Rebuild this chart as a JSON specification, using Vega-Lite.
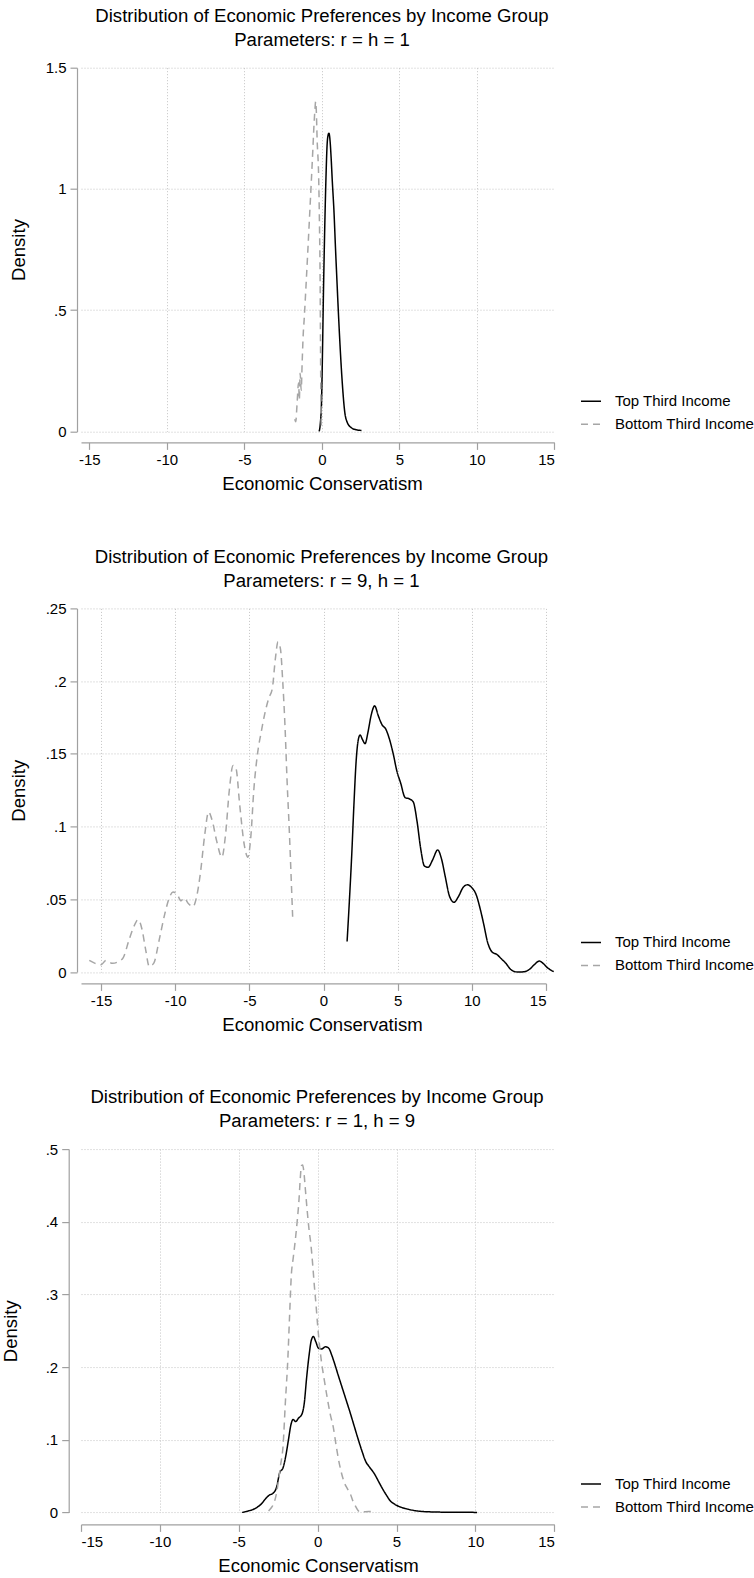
{
  "$schema": "https://vega.github.io/schema/vega-lite/v6.json",
  "padding": {"left": 0, "top": 6.7, "right": 0, "bottom": 0},
  "background": "white",
  "columns": 1,
  "spacing": 53.7,
  "resolve": {"scale": {"color": "independent", "strokeDash": "independent"}, "legend": {"color": "independent", "strokeDash": "independent"}},
  "datasets": {
    "p1": [
      {"x": -0.17, "y": 0.0, "g": "Top Third Income"},
      {"x": -0.1, "y": 0.03, "g": "Top Third Income"},
      {"x": -0.02, "y": 0.12, "g": "Top Third Income"},
      {"x": 0.05, "y": 0.35, "g": "Top Third Income"},
      {"x": 0.1, "y": 0.55, "g": "Top Third Income"},
      {"x": 0.15, "y": 0.72, "g": "Top Third Income"},
      {"x": 0.21, "y": 0.9, "g": "Top Third Income"},
      {"x": 0.27, "y": 1.05, "g": "Top Third Income"},
      {"x": 0.34, "y": 1.18, "g": "Top Third Income"},
      {"x": 0.4, "y": 1.22, "g": "Top Third Income"},
      {"x": 0.46, "y": 1.23, "g": "Top Third Income"},
      {"x": 0.53, "y": 1.2, "g": "Top Third Income"},
      {"x": 0.6, "y": 1.13, "g": "Top Third Income"},
      {"x": 0.67, "y": 1.04, "g": "Top Third Income"},
      {"x": 0.79, "y": 0.9, "g": "Top Third Income"},
      {"x": 0.88, "y": 0.76, "g": "Top Third Income"},
      {"x": 0.97, "y": 0.63, "g": "Top Third Income"},
      {"x": 1.07, "y": 0.49, "g": "Top Third Income"},
      {"x": 1.18, "y": 0.35, "g": "Top Third Income"},
      {"x": 1.31, "y": 0.21, "g": "Top Third Income"},
      {"x": 1.48, "y": 0.08, "g": "Top Third Income"},
      {"x": 1.65, "y": 0.036, "g": "Top Third Income"},
      {"x": 1.91, "y": 0.015, "g": "Top Third Income"},
      {"x": 2.2, "y": 0.007, "g": "Top Third Income"},
      {"x": 2.56, "y": 0.004, "g": "Top Third Income"},
      {"x": -1.75, "y": 0.05, "g": "Bottom Third Income"},
      {"x": -1.68, "y": 0.04, "g": "Bottom Third Income"},
      {"x": -1.6, "y": 0.11, "g": "Bottom Third Income"},
      {"x": -1.5, "y": 0.2, "g": "Bottom Third Income"},
      {"x": -1.45, "y": 0.13, "g": "Bottom Third Income"},
      {"x": -1.4, "y": 0.24, "g": "Bottom Third Income"},
      {"x": -1.33, "y": 0.17, "g": "Bottom Third Income"},
      {"x": -1.27, "y": 0.28, "g": "Bottom Third Income"},
      {"x": -1.2, "y": 0.4, "g": "Bottom Third Income"},
      {"x": -1.14, "y": 0.46, "g": "Bottom Third Income"},
      {"x": -1.02, "y": 0.6, "g": "Bottom Third Income"},
      {"x": -0.89, "y": 0.76, "g": "Bottom Third Income"},
      {"x": -0.78, "y": 0.9, "g": "Bottom Third Income"},
      {"x": -0.67, "y": 1.04, "g": "Bottom Third Income"},
      {"x": -0.58, "y": 1.16, "g": "Bottom Third Income"},
      {"x": -0.5, "y": 1.27, "g": "Bottom Third Income"},
      {"x": -0.44, "y": 1.33, "g": "Bottom Third Income"},
      {"x": -0.4, "y": 1.36, "g": "Bottom Third Income"},
      {"x": -0.36, "y": 1.33, "g": "Bottom Third Income"},
      {"x": -0.3, "y": 1.2, "g": "Bottom Third Income"},
      {"x": -0.2, "y": 1.04, "g": "Bottom Third Income"},
      {"x": -0.15, "y": 0.85, "g": "Bottom Third Income"},
      {"x": -0.11, "y": 0.63, "g": "Bottom Third Income"},
      {"x": -0.09, "y": 0.42, "g": "Bottom Third Income"},
      {"x": -0.07, "y": 0.21, "g": "Bottom Third Income"},
      {"x": -0.05, "y": 0.08, "g": "Bottom Third Income"},
      {"x": -0.03, "y": 0.02, "g": "Bottom Third Income"}
    ],
    "p2": [
      {"x": 1.59, "y": 0.021, "g": "Top Third Income"},
      {"x": 1.75, "y": 0.05, "g": "Top Third Income"},
      {"x": 1.9, "y": 0.08, "g": "Top Third Income"},
      {"x": 2.05, "y": 0.115, "g": "Top Third Income"},
      {"x": 2.2, "y": 0.145, "g": "Top Third Income"},
      {"x": 2.35, "y": 0.16, "g": "Top Third Income"},
      {"x": 2.47, "y": 0.163, "g": "Top Third Income"},
      {"x": 2.62, "y": 0.16, "g": "Top Third Income"},
      {"x": 2.8, "y": 0.157, "g": "Top Third Income"},
      {"x": 3.0, "y": 0.165, "g": "Top Third Income"},
      {"x": 3.2, "y": 0.176, "g": "Top Third Income"},
      {"x": 3.45, "y": 0.183, "g": "Top Third Income"},
      {"x": 3.7, "y": 0.176, "g": "Top Third Income"},
      {"x": 3.95, "y": 0.17, "g": "Top Third Income"},
      {"x": 4.2, "y": 0.167, "g": "Top Third Income"},
      {"x": 4.45, "y": 0.16, "g": "Top Third Income"},
      {"x": 4.7, "y": 0.15, "g": "Top Third Income"},
      {"x": 4.95, "y": 0.138, "g": "Top Third Income"},
      {"x": 5.2, "y": 0.13, "g": "Top Third Income"},
      {"x": 5.5, "y": 0.12, "g": "Top Third Income"},
      {"x": 5.8, "y": 0.119, "g": "Top Third Income"},
      {"x": 6.05, "y": 0.117, "g": "Top Third Income"},
      {"x": 6.3, "y": 0.104, "g": "Top Third Income"},
      {"x": 6.55, "y": 0.085, "g": "Top Third Income"},
      {"x": 6.8, "y": 0.073, "g": "Top Third Income"},
      {"x": 7.05, "y": 0.072, "g": "Top Third Income"},
      {"x": 7.35, "y": 0.077, "g": "Top Third Income"},
      {"x": 7.7, "y": 0.084, "g": "Top Third Income"},
      {"x": 7.95, "y": 0.078, "g": "Top Third Income"},
      {"x": 8.2, "y": 0.066, "g": "Top Third Income"},
      {"x": 8.5, "y": 0.052, "g": "Top Third Income"},
      {"x": 8.8, "y": 0.048, "g": "Top Third Income"},
      {"x": 9.1, "y": 0.052, "g": "Top Third Income"},
      {"x": 9.4, "y": 0.058, "g": "Top Third Income"},
      {"x": 9.7, "y": 0.06, "g": "Top Third Income"},
      {"x": 10.0, "y": 0.058, "g": "Top Third Income"},
      {"x": 10.3, "y": 0.053, "g": "Top Third Income"},
      {"x": 10.55, "y": 0.044, "g": "Top Third Income"},
      {"x": 10.8, "y": 0.033, "g": "Top Third Income"},
      {"x": 11.05, "y": 0.021, "g": "Top Third Income"},
      {"x": 11.35, "y": 0.014, "g": "Top Third Income"},
      {"x": 11.7, "y": 0.012, "g": "Top Third Income"},
      {"x": 12.0, "y": 0.009, "g": "Top Third Income"},
      {"x": 12.3, "y": 0.006, "g": "Top Third Income"},
      {"x": 12.6, "y": 0.002, "g": "Top Third Income"},
      {"x": 12.9, "y": 0.0003, "g": "Top Third Income"},
      {"x": 13.2, "y": 0.0, "g": "Top Third Income"},
      {"x": 13.55, "y": 0.0003, "g": "Top Third Income"},
      {"x": 13.9, "y": 0.002, "g": "Top Third Income"},
      {"x": 14.2, "y": 0.005, "g": "Top Third Income"},
      {"x": 14.55, "y": 0.0076, "g": "Top Third Income"},
      {"x": 14.8, "y": 0.006, "g": "Top Third Income"},
      {"x": 15.1, "y": 0.003, "g": "Top Third Income"},
      {"x": 15.52, "y": 0.0003, "g": "Top Third Income"},
      {"x": -15.79, "y": 0.008, "g": "Bottom Third Income"},
      {"x": -15.4, "y": 0.006, "g": "Bottom Third Income"},
      {"x": -15.0, "y": 0.005, "g": "Bottom Third Income"},
      {"x": -14.67, "y": 0.008, "g": "Bottom Third Income"},
      {"x": -14.22, "y": 0.006, "g": "Bottom Third Income"},
      {"x": -13.77, "y": 0.0076, "g": "Bottom Third Income"},
      {"x": -13.5, "y": 0.01, "g": "Bottom Third Income"},
      {"x": -13.1, "y": 0.0225, "g": "Bottom Third Income"},
      {"x": -12.8, "y": 0.031, "g": "Bottom Third Income"},
      {"x": -12.5, "y": 0.036, "g": "Bottom Third Income"},
      {"x": -12.25, "y": 0.03, "g": "Bottom Third Income"},
      {"x": -12.0, "y": 0.016, "g": "Bottom Third Income"},
      {"x": -11.75, "y": 0.004, "g": "Bottom Third Income"},
      {"x": -11.45, "y": 0.006, "g": "Bottom Third Income"},
      {"x": -11.07, "y": 0.0225, "g": "Bottom Third Income"},
      {"x": -10.7, "y": 0.04, "g": "Bottom Third Income"},
      {"x": -10.4, "y": 0.051, "g": "Bottom Third Income"},
      {"x": -10.15, "y": 0.055, "g": "Bottom Third Income"},
      {"x": -9.9, "y": 0.054, "g": "Bottom Third Income"},
      {"x": -9.6, "y": 0.049, "g": "Bottom Third Income"},
      {"x": -9.4, "y": 0.051, "g": "Bottom Third Income"},
      {"x": -9.1, "y": 0.047, "g": "Bottom Third Income"},
      {"x": -8.8, "y": 0.045, "g": "Bottom Third Income"},
      {"x": -8.55, "y": 0.052, "g": "Bottom Third Income"},
      {"x": -8.3, "y": 0.068, "g": "Bottom Third Income"},
      {"x": -8.0, "y": 0.095, "g": "Bottom Third Income"},
      {"x": -7.75, "y": 0.11, "g": "Bottom Third Income"},
      {"x": -7.5, "y": 0.104, "g": "Bottom Third Income"},
      {"x": -7.2, "y": 0.09, "g": "Bottom Third Income"},
      {"x": -6.85, "y": 0.079, "g": "Bottom Third Income"},
      {"x": -6.6, "y": 0.095, "g": "Bottom Third Income"},
      {"x": -6.35, "y": 0.125, "g": "Bottom Third Income"},
      {"x": -6.1, "y": 0.142, "g": "Bottom Third Income"},
      {"x": -5.9, "y": 0.14, "g": "Bottom Third Income"},
      {"x": -5.65, "y": 0.115, "g": "Bottom Third Income"},
      {"x": -5.35, "y": 0.088, "g": "Bottom Third Income"},
      {"x": -5.1, "y": 0.079, "g": "Bottom Third Income"},
      {"x": -4.9, "y": 0.093, "g": "Bottom Third Income"},
      {"x": -4.7, "y": 0.125, "g": "Bottom Third Income"},
      {"x": -4.45, "y": 0.15, "g": "Bottom Third Income"},
      {"x": -4.2, "y": 0.165, "g": "Bottom Third Income"},
      {"x": -3.95, "y": 0.178, "g": "Bottom Third Income"},
      {"x": -3.7, "y": 0.188, "g": "Bottom Third Income"},
      {"x": -3.45, "y": 0.195, "g": "Bottom Third Income"},
      {"x": -3.25, "y": 0.215, "g": "Bottom Third Income"},
      {"x": -3.07, "y": 0.227, "g": "Bottom Third Income"},
      {"x": -2.9, "y": 0.222, "g": "Bottom Third Income"},
      {"x": -2.75, "y": 0.2, "g": "Bottom Third Income"},
      {"x": -2.6, "y": 0.17, "g": "Bottom Third Income"},
      {"x": -2.45, "y": 0.13, "g": "Bottom Third Income"},
      {"x": -2.3, "y": 0.096, "g": "Bottom Third Income"},
      {"x": -2.2, "y": 0.07, "g": "Bottom Third Income"},
      {"x": -2.08, "y": 0.038, "g": "Bottom Third Income"}
    ],
    "p3": [
      {"x": -4.79, "y": 0.0, "g": "Top Third Income"},
      {"x": -4.4, "y": 0.002, "g": "Top Third Income"},
      {"x": -4.0, "y": 0.005, "g": "Top Third Income"},
      {"x": -3.6, "y": 0.011, "g": "Top Third Income"},
      {"x": -3.25, "y": 0.02, "g": "Top Third Income"},
      {"x": -3.05, "y": 0.024, "g": "Top Third Income"},
      {"x": -2.85, "y": 0.026, "g": "Top Third Income"},
      {"x": -2.6, "y": 0.035, "g": "Top Third Income"},
      {"x": -2.4, "y": 0.055, "g": "Top Third Income"},
      {"x": -2.2, "y": 0.061, "g": "Top Third Income"},
      {"x": -2.0, "y": 0.08, "g": "Top Third Income"},
      {"x": -1.85, "y": 0.1, "g": "Top Third Income"},
      {"x": -1.7, "y": 0.12, "g": "Top Third Income"},
      {"x": -1.55, "y": 0.128, "g": "Top Third Income"},
      {"x": -1.4, "y": 0.125, "g": "Top Third Income"},
      {"x": -1.2, "y": 0.13, "g": "Top Third Income"},
      {"x": -1.0, "y": 0.135, "g": "Top Third Income"},
      {"x": -0.85, "y": 0.15, "g": "Top Third Income"},
      {"x": -0.7, "y": 0.185, "g": "Top Third Income"},
      {"x": -0.55, "y": 0.215, "g": "Top Third Income"},
      {"x": -0.4, "y": 0.237, "g": "Top Third Income"},
      {"x": -0.27, "y": 0.242, "g": "Top Third Income"},
      {"x": -0.12, "y": 0.235, "g": "Top Third Income"},
      {"x": 0.05, "y": 0.226, "g": "Top Third Income"},
      {"x": 0.25, "y": 0.225, "g": "Top Third Income"},
      {"x": 0.5, "y": 0.228, "g": "Top Third Income"},
      {"x": 0.7, "y": 0.226, "g": "Top Third Income"},
      {"x": 0.9, "y": 0.216, "g": "Top Third Income"},
      {"x": 1.1, "y": 0.203, "g": "Top Third Income"},
      {"x": 1.3, "y": 0.189, "g": "Top Third Income"},
      {"x": 1.55, "y": 0.172, "g": "Top Third Income"},
      {"x": 1.8, "y": 0.155, "g": "Top Third Income"},
      {"x": 2.05, "y": 0.138, "g": "Top Third Income"},
      {"x": 2.3, "y": 0.12, "g": "Top Third Income"},
      {"x": 2.55, "y": 0.102, "g": "Top Third Income"},
      {"x": 2.8, "y": 0.085, "g": "Top Third Income"},
      {"x": 3.05, "y": 0.07, "g": "Top Third Income"},
      {"x": 3.3, "y": 0.062, "g": "Top Third Income"},
      {"x": 3.6, "y": 0.053, "g": "Top Third Income"},
      {"x": 3.85, "y": 0.043, "g": "Top Third Income"},
      {"x": 4.1, "y": 0.033, "g": "Top Third Income"},
      {"x": 4.35, "y": 0.024, "g": "Top Third Income"},
      {"x": 4.6, "y": 0.016, "g": "Top Third Income"},
      {"x": 4.9, "y": 0.011, "g": "Top Third Income"},
      {"x": 5.3, "y": 0.007, "g": "Top Third Income"},
      {"x": 5.8, "y": 0.004, "g": "Top Third Income"},
      {"x": 6.5, "y": 0.0015, "g": "Top Third Income"},
      {"x": 7.5, "y": 0.0005, "g": "Top Third Income"},
      {"x": 8.5, "y": 0.0002, "g": "Top Third Income"},
      {"x": 10.1, "y": 0.0, "g": "Top Third Income"},
      {"x": -3.11, "y": 0.002, "g": "Bottom Third Income"},
      {"x": -2.95, "y": 0.006, "g": "Bottom Third Income"},
      {"x": -2.81, "y": 0.011, "g": "Bottom Third Income"},
      {"x": -2.65, "y": 0.022, "g": "Bottom Third Income"},
      {"x": -2.5, "y": 0.041, "g": "Bottom Third Income"},
      {"x": -2.35, "y": 0.065, "g": "Bottom Third Income"},
      {"x": -2.19, "y": 0.092, "g": "Bottom Third Income"},
      {"x": -2.05, "y": 0.15, "g": "Bottom Third Income"},
      {"x": -1.89, "y": 0.211, "g": "Bottom Third Income"},
      {"x": -1.78, "y": 0.27, "g": "Bottom Third Income"},
      {"x": -1.67, "y": 0.326, "g": "Bottom Third Income"},
      {"x": -1.55, "y": 0.35, "g": "Bottom Third Income"},
      {"x": -1.43, "y": 0.372, "g": "Bottom Third Income"},
      {"x": -1.3, "y": 0.4, "g": "Bottom Third Income"},
      {"x": -1.18, "y": 0.431, "g": "Bottom Third Income"},
      {"x": -1.1, "y": 0.46, "g": "Bottom Third Income"},
      {"x": -1.03, "y": 0.477, "g": "Bottom Third Income"},
      {"x": -0.95, "y": 0.478, "g": "Bottom Third Income"},
      {"x": -0.88, "y": 0.47, "g": "Bottom Third Income"},
      {"x": -0.78, "y": 0.445, "g": "Bottom Third Income"},
      {"x": -0.67, "y": 0.417, "g": "Bottom Third Income"},
      {"x": -0.55, "y": 0.39, "g": "Bottom Third Income"},
      {"x": -0.42, "y": 0.367, "g": "Bottom Third Income"},
      {"x": -0.31, "y": 0.34, "g": "Bottom Third Income"},
      {"x": -0.21, "y": 0.312, "g": "Bottom Third Income"},
      {"x": -0.1, "y": 0.285, "g": "Bottom Third Income"},
      {"x": 0.0, "y": 0.257, "g": "Bottom Third Income"},
      {"x": 0.12, "y": 0.23, "g": "Bottom Third Income"},
      {"x": 0.25, "y": 0.206, "g": "Bottom Third Income"},
      {"x": 0.4, "y": 0.185, "g": "Bottom Third Income"},
      {"x": 0.55, "y": 0.165, "g": "Bottom Third Income"},
      {"x": 0.8, "y": 0.135, "g": "Bottom Third Income"},
      {"x": 1.01, "y": 0.115, "g": "Bottom Third Income"},
      {"x": 1.15, "y": 0.095, "g": "Bottom Third Income"},
      {"x": 1.32, "y": 0.073, "g": "Bottom Third Income"},
      {"x": 1.5, "y": 0.055, "g": "Bottom Third Income"},
      {"x": 1.69, "y": 0.041, "g": "Bottom Third Income"},
      {"x": 1.9, "y": 0.032, "g": "Bottom Third Income"},
      {"x": 2.08, "y": 0.025, "g": "Bottom Third Income"},
      {"x": 2.25, "y": 0.015, "g": "Bottom Third Income"},
      {"x": 2.39, "y": 0.009, "g": "Bottom Third Income"},
      {"x": 2.55, "y": 0.003, "g": "Bottom Third Income"},
      {"x": 2.69, "y": 0.0005, "g": "Bottom Third Income"},
      {"x": 3.0, "y": 0.001, "g": "Bottom Third Income"},
      {"x": 3.25, "y": 0.0012, "g": "Bottom Third Income"},
      {"x": 3.52, "y": 0.001, "g": "Bottom Third Income"}
    ]
  },
  "concat": [
    {
      "width": 473.3,
      "height": 363.7,
      "title": {"text": ["Distribution of Economic Preferences by Income Group", "Parameters: r = h = 1"], "dx": 4.3},
      "data": {"name": "p1"},
      "mark": {"type": "line", "strokeWidth": 1.5, "interpolate": "monotone"},
      "encoding": {
        "x": {"field": "x", "type": "quantitative", "scale": {"domain": [-15.537, 15], "nice": false, "zero": false},
              "axis": {"values": [-15, -10, -5, 0, 5, 10, 15], "title": "Economic Conservatism", "offset": 11, "titleX": 241,
                       "gridOpacity": {"condition": {"test": "abs(datum.value) == 15", "value": 0}, "value": 1}}},
        "y": {"field": "y", "type": "quantitative", "scale": {"domain": [0, 1.5], "nice": false},
              "axis": {"values": [0, 0.5, 1, 1.5], "title": "Density", "offset": 4, "titleX": -58.7, "titleY": 181.85}},
        "color": {"field": "g", "type": "nominal",
                  "scale": {"domain": ["Top Third Income", "Bottom Third Income"], "range": ["#000000", "#a6a6a6"]},
                  "legend": {"title": null, "orient": "none", "legendX": 499, "legendY": 322.5}},
        "strokeDash": {"field": "g", "type": "nominal",
                  "scale": {"domain": ["Top Third Income", "Bottom Third Income"], "range": [[1, 0], [7, 5]]},
                  "legend": {"title": null, "orient": "none", "legendX": 499, "legendY": 322.5}}
      }
    },
    {
      "width": 465,
      "height": 363.7,
      "title": {"text": ["Distribution of Economic Preferences by Income Group", "Parameters: r = 9, h = 1"], "dx": 7.9},
      "data": {"name": "p2"},
      "mark": {"type": "line", "strokeWidth": 1.5, "interpolate": "monotone"},
      "encoding": {
        "x": {"field": "x", "type": "quantitative", "scale": {"domain": [-16.349, 15], "nice": false, "zero": false},
              "axis": {"values": [-15, -10, -5, 0, 5, 10, 15], "title": "Economic Conservatism", "offset": 11.3, "titleX": 241}},
        "y": {"field": "y", "type": "quantitative", "scale": {"domain": [0, 0.25], "nice": false},
              "axis": {"values": [0, 0.05, 0.1, 0.15, 0.2, 0.25], "title": "Density", "offset": 4, "titleX": -58.7, "titleY": 181.85}},
        "color": {"field": "g", "type": "nominal",
                  "scale": {"domain": ["Top Third Income", "Bottom Third Income"], "range": ["#000000", "#a6a6a6"]},
                  "legend": {"title": null, "orient": "none", "legendX": 499, "legendY": 323}},
        "strokeDash": {"field": "g", "type": "nominal",
                  "scale": {"domain": ["Top Third Income", "Bottom Third Income"], "range": [[1, 0], [7, 5]]},
                  "legend": {"title": null, "orient": "none", "legendX": 499, "legendY": 323}}
      }
    },
    {
      "width": 473.3,
      "height": 363.3,
      "title": {"text": ["Distribution of Economic Preferences by Income Group", "Parameters: r = 1, h = 9"], "dx": -0.6},
      "data": {"name": "p3"},
      "mark": {"type": "line", "strokeWidth": 1.5, "interpolate": "monotone"},
      "encoding": {
        "x": {"field": "x", "type": "quantitative", "scale": {"domain": [-15, 15], "nice": false, "zero": false},
              "axis": {"values": [-15, -10, -5, 0, 5, 10, 15], "title": "Economic Conservatism", "offset": 12, "titleX": 237,
                       "gridOpacity": {"condition": {"test": "abs(datum.value) == 15", "value": 0}, "value": 1}}},
        "y": {"field": "y", "type": "quantitative", "scale": {"domain": [0, 0.5], "nice": false},
              "axis": {"values": [0, 0.1, 0.2, 0.3, 0.4, 0.5], "title": "Density", "offset": 12.3, "titleX": -58.7, "titleY": 181.65}},
        "color": {"field": "g", "type": "nominal",
                  "scale": {"domain": ["Top Third Income", "Bottom Third Income"], "range": ["#000000", "#a6a6a6"]},
                  "legend": {"title": null, "orient": "none", "legendX": 499, "legendY": 324}},
        "strokeDash": {"field": "g", "type": "nominal",
                  "scale": {"domain": ["Top Third Income", "Bottom Third Income"], "range": [[1, 0], [7, 5]]},
                  "legend": {"title": null, "orient": "none", "legendX": 499, "legendY": 324}}
      }
    }
  ],
  "config": {
    "font": "Liberation Sans",
    "view": {"stroke": null},
    "title": {"fontSize": 18.6, "fontWeight": "normal", "color": "#000000", "anchor": "middle", "frame": "group", "lineHeight": 24, "offset": 11, "font": "Liberation Sans"},
    "axis": {
      "labelFont": "Liberation Sans", "labelFontSize": 15, "labelColor": "#000000",
      "titleFont": "Liberation Sans", "titleFontSize": 18.6, "titleFontWeight": "normal", "titleColor": "#000000",
      "domainColor": "#a0a0a0", "domainWidth": 1.2, "tickColor": "#a0a0a0", "tickWidth": 1.2, "tickSize": 7,
      "gridColor": "#c4c4c4", "gridDash": [1, 2], "gridWidth": 1,
      "labelExpr": "replace(datum.value > 0 && datum.value < 1 ? substring(format(datum.value, '~g'), 1) : format(datum.value, '~g'), '\u2212', '-')"
    },
    "axisX": {"labelPadding": 3, "titlePadding": 7},
    "axisY": {"labelPadding": 4, "titleAngle": 270, "titleAlign": "center", "titleBaseline": "middle"},
    "legend": {"symbolType": "stroke", "symbolSize": 400, "symbolStrokeWidth": 1.5, "labelFontSize": 15, "labelFont": "Liberation Sans", "labelColor": "#000000", "labelOffset": 13, "rowPadding": 4, "padding": 0, "labelLimit": 300, "symbolOpacity": 1}
  }
}
